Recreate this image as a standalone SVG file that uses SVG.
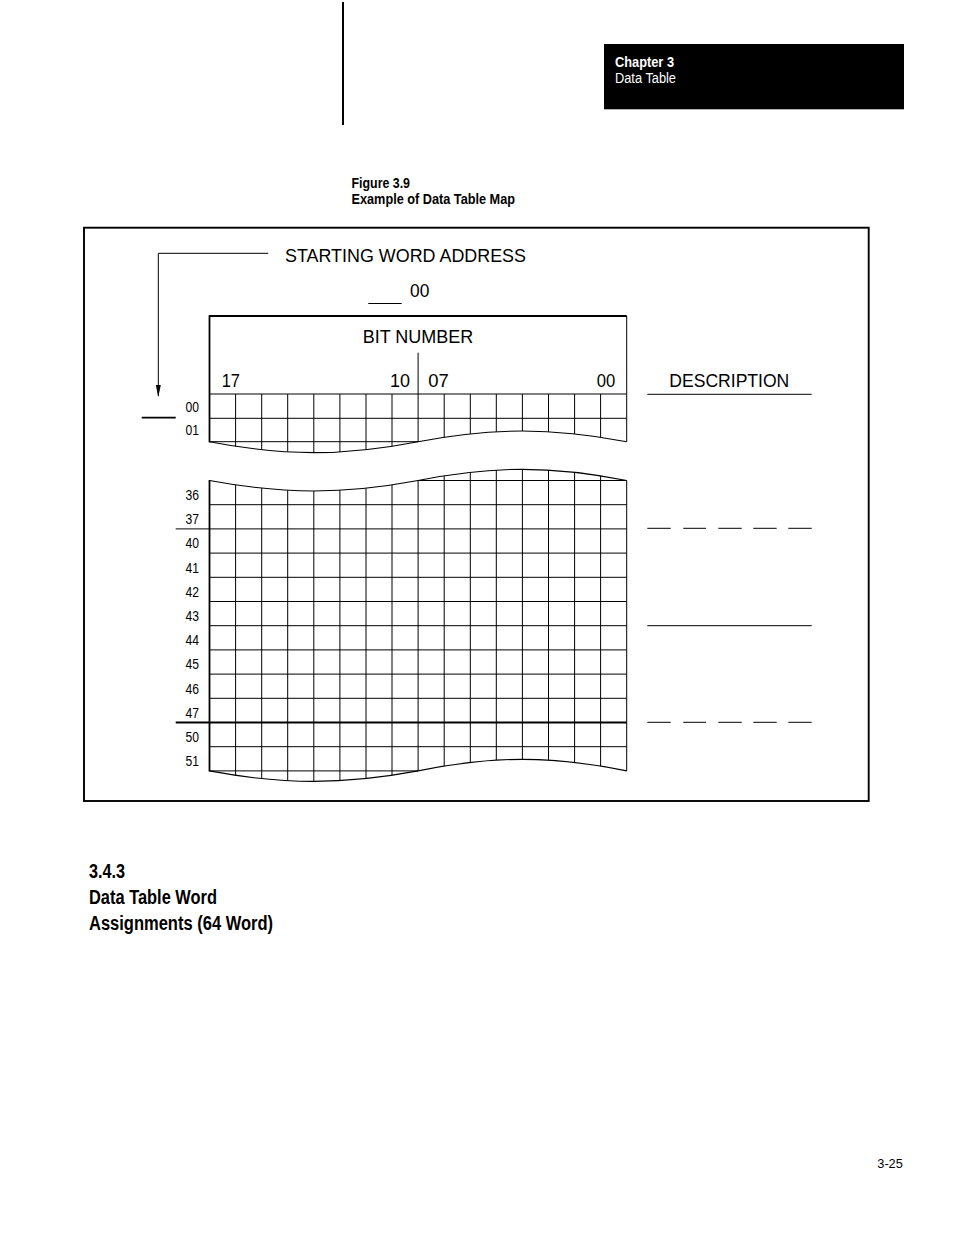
<svg xmlns="http://www.w3.org/2000/svg" width="954" height="1235" viewBox="0 0 954 1235">
<style>
text{font-family:"Liberation Sans",Arial,Helvetica,sans-serif;fill:#000}
.b{font-weight:bold}
.big{font-size:18.5px}
.lbl{font-size:14px}
.thin{fill:none;stroke:#000;stroke-width:1}
.thick{fill:none;stroke:#000;stroke-width:1.8}
.wave{fill:none;stroke:#000;stroke-width:1.1}
</style>
<defs>
<marker id="ah" markerWidth="12" markerHeight="6" refX="11" refY="3" orient="auto" markerUnits="userSpaceOnUse" viewBox="0 0 12 6">
<path d="M0,0.5 L12,3 L0,5.5 Z" fill="#000"/>
</marker>
<clipPath id="clipU">
<path d="M209.5,390 L626.7,390 L626.7,441.7 C551.6,427.5 493.2,427.5 418.1,441.7 C343,456.3 284.6,456.3 209.5,441.7 Z"/>
</clipPath>
<clipPath id="clipL">
<path d="M209.5,480.5 C284.6,494.5 343,494.5 418.1,480.5 C493.2,465.6 551.6,465.6 626.7,480.5 L626.7,770.9 C551.6,755.5 493.2,755.5 418.1,770.9 C343,784.9 284.6,784.9 209.5,770.9 Z"/>
</clipPath>
</defs>
<rect width="954" height="1235" fill="#fff"/>

<g id="page-rule">
<line x1="343" y1="2" x2="343" y2="125" stroke="#000" stroke-width="2"/>
</g>

<g id="chapter-header">
<rect x="604" y="44" width="300" height="65.3" fill="#000"/>
<text x="615" y="66.5" class="b" font-size="14" textLength="59" lengthAdjust="spacingAndGlyphs" style="fill:#fff">Chapter 3</text>
<text x="615" y="83" font-size="14" textLength="61" lengthAdjust="spacingAndGlyphs" style="fill:#fff">Data Table</text>
</g>

<g id="figure-title">
<text x="351.5" y="188.3" class="b" font-size="14.5" textLength="58.5" lengthAdjust="spacingAndGlyphs">Figure 3.9</text>
<text x="351.5" y="204.3" class="b" font-size="14.5" textLength="163.5" lengthAdjust="spacingAndGlyphs">Example of Data Table Map</text>
</g>

<g id="figure-frame">
<rect x="84" y="227.7" width="784.7" height="573.3" fill="none" stroke="#000" stroke-width="1.9"/>
</g>

<g id="starting-word-address">
<text x="285" y="262" class="big" textLength="241" lengthAdjust="spacingAndGlyphs">STARTING WORD ADDRESS</text>
<line x1="368.3" y1="303.5" x2="401.7" y2="303.5" class="thin"/>
<text x="410" y="296.7" class="big" textLength="19.3" lengthAdjust="spacingAndGlyphs">00</text>
</g>

<g id="bit-number-header">
<path d="M209.5,316 H626.7" class="thick"/>
<path d="M626.7,316 V441.7" class="thin" stroke-width="1.3"/>
<text x="362.7" y="343.3" class="big" textLength="110.6" lengthAdjust="spacingAndGlyphs">BIT NUMBER</text>
<line x1="418.1" y1="352.7" x2="418.1" y2="394" class="thin"/>
<text x="221.7" y="387.3" class="big" textLength="18.3" lengthAdjust="spacingAndGlyphs">17</text>
<text x="390" y="387.3" class="big" textLength="20" lengthAdjust="spacingAndGlyphs">10</text>
<text x="428.3" y="387.3" class="big" textLength="20.5" lengthAdjust="spacingAndGlyphs">07</text>
<text x="596.7" y="387.3" class="big" textLength="18.5" lengthAdjust="spacingAndGlyphs">00</text>
</g>

<g id="grid-upper">
<path clip-path="url(#clipU)" class="thin" d="M235.6,394V460 M261.7,394V460 M287.7,394V460 M313.8,394V460 M339.9,394V460 M366,394V460 M392,394V460 M418.1,394V460 M444.2,394V460 M470.3,394V460 M496.3,394V460 M522.4,394V460 M548.5,394V460 M574.6,394V460 M600.6,394V460"/>
<path d="M209.5,394 H626.7 M209.5,418.3 H626.7 M209.5,441.7 H418.1" class="thin"/>
<path d="M209.5,441.7 C284.6,456.3 343,456.3 418.1,441.7 C493.2,427.5 551.6,427.5 626.7,441.7" class="wave"/>
<path d="M209.5,315.2 V442.3" class="thick"/>
<line x1="141.7" y1="417.7" x2="175.7" y2="417.7" class="thick"/>
<text x="185.5" y="411.7" class="lbl" textLength="13.5" lengthAdjust="spacingAndGlyphs">00</text>
<text x="185.5" y="435.3" class="lbl" textLength="13.5" lengthAdjust="spacingAndGlyphs">01</text>
</g>

<g id="grid-lower">
<path clip-path="url(#clipL)" class="thin" d="M235.6,460V790 M261.7,460V790 M287.7,460V790 M313.8,460V790 M339.9,460V790 M366,460V790 M392,460V790 M418.1,460V790 M444.2,460V790 M470.3,460V790 M496.3,460V790 M522.4,460V790 M548.5,460V790 M574.6,460V790 M600.6,460V790"/>
<path class="thin" d="M418.1,480.5 H626.7 M209.5,504.7 H626.7 M175.7,528.9 H626.7 M209.5,553.1 H626.7 M209.5,577.3 H626.7 M209.5,601.5 H626.7 M209.5,625.7 H626.7 M209.5,649.9 H626.7 M209.5,674.1 H626.7 M209.5,698.3 H626.7 M209.5,746.7 H626.7 M209.5,770.9 H418.1"/>
<path d="M175.7,722.5 H626.7" class="thick"/>
<path d="M209.5,480.5 C284.6,494.5 343,494.5 418.1,480.5 C493.2,465.6 551.6,465.6 626.7,480.5" class="wave"/>
<path d="M209.5,770.9 C284.6,784.9 343,784.9 418.1,770.9 C493.2,755.5 551.6,755.5 626.7,770.9" class="wave"/>
<path d="M626.7,480.5 V770.9" class="thin" stroke-width="1.3"/>
<path d="M209.5,480 V771.4" class="thick"/>
<text x="185.5" y="500" class="lbl" textLength="13.5" lengthAdjust="spacingAndGlyphs">36</text>
<text x="185.5" y="524.2" class="lbl" textLength="13.5" lengthAdjust="spacingAndGlyphs">37</text>
<text x="185.5" y="548.4" class="lbl" textLength="13.5" lengthAdjust="spacingAndGlyphs">40</text>
<text x="185.5" y="572.6" class="lbl" textLength="13.5" lengthAdjust="spacingAndGlyphs">41</text>
<text x="185.5" y="596.8" class="lbl" textLength="13.5" lengthAdjust="spacingAndGlyphs">42</text>
<text x="185.5" y="621" class="lbl" textLength="13.5" lengthAdjust="spacingAndGlyphs">43</text>
<text x="185.5" y="645.2" class="lbl" textLength="13.5" lengthAdjust="spacingAndGlyphs">44</text>
<text x="185.5" y="669.4" class="lbl" textLength="13.5" lengthAdjust="spacingAndGlyphs">45</text>
<text x="185.5" y="693.6" class="lbl" textLength="13.5" lengthAdjust="spacingAndGlyphs">46</text>
<text x="185.5" y="717.8" class="lbl" textLength="13.5" lengthAdjust="spacingAndGlyphs">47</text>
<text x="185.5" y="742" class="lbl" textLength="13.5" lengthAdjust="spacingAndGlyphs">50</text>
<text x="185.5" y="766.2" class="lbl" textLength="13.5" lengthAdjust="spacingAndGlyphs">51</text>
</g>

<g id="description">
<text x="669.3" y="386.7" class="big" textLength="120" lengthAdjust="spacingAndGlyphs">DESCRIPTION</text>
<path class="thin" d="M647.3,394.3 H811.7 M647.3,625.7 H811.7"/>
<path class="thin" d="M647.3,528.3 H670.7 M683.3,528.3 H706 M718.3,528.3 H741.7 M753.3,528.3 H776.7 M788.3,528.3 H811.7"/>
<path class="thin" d="M647.3,722.3 H670.7 M683.3,722.3 H706 M718.3,722.3 H741.7 M753.3,722.3 H776.7 M788.3,722.3 H811.7"/>
</g>

<g id="connectors">
<path d="M268.3,253.3 H158.3 V396" fill="none" stroke="#000" stroke-width="1" marker-end="url(#ah)"/>
</g>

<g id="section-heading">
<text x="89" y="878" class="b" font-size="20" textLength="36" lengthAdjust="spacingAndGlyphs">3.4.3</text>
<text x="89" y="904.3" class="b" font-size="20" textLength="128" lengthAdjust="spacingAndGlyphs">Data Table Word</text>
<text x="89" y="929.5" class="b" font-size="20" textLength="184" lengthAdjust="spacingAndGlyphs">Assignments (64 Word)</text>
</g>

<g id="page-number">
<text x="877.3" y="1168" font-size="13" textLength="25.5" lengthAdjust="spacingAndGlyphs">3-25</text>
</g>
</svg>
